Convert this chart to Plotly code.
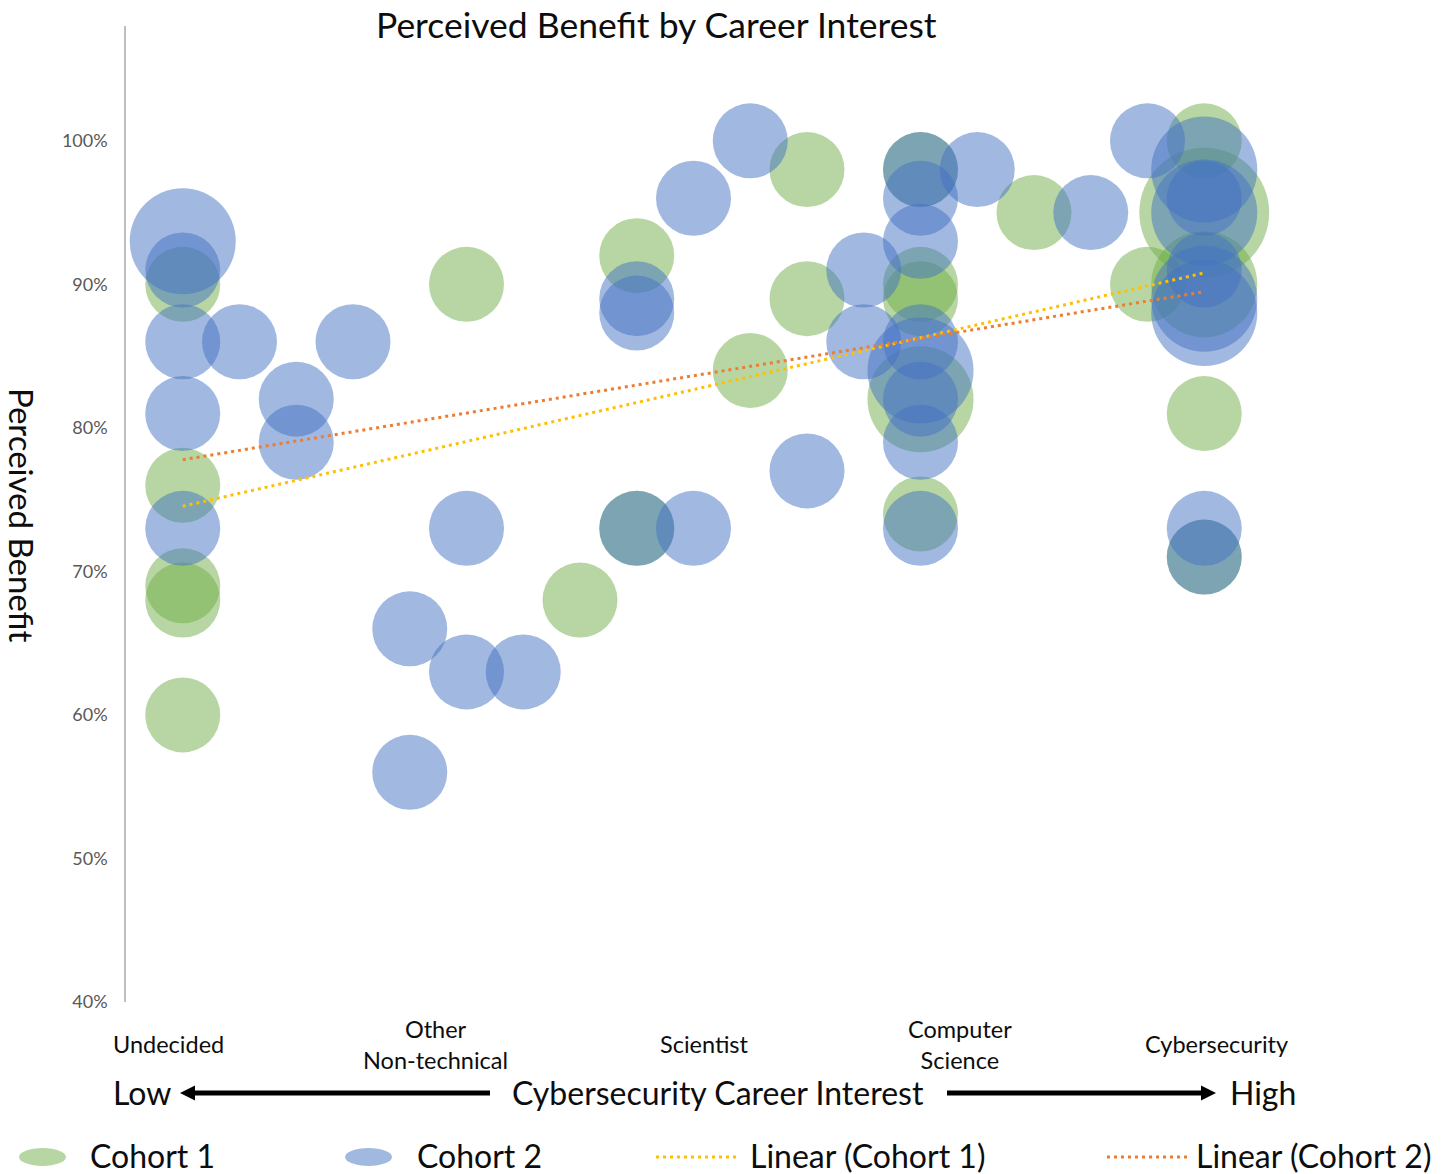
import numpy as np
import plotly.graph_objects as go

# ---- data ---------------------------------------------------------------
# x: position on the career-interest scale (1 = Undecided ... 19 = Cybersecurity)
# y: perceived benefit, n: number of students at that point (bubble size)
c1_x = [1, 1, 1, 1, 1, 6, 8, 9, 9, 11, 12, 12, 14, 14, 14, 14, 14, 16, 18, 19, 19, 19, 19, 19]
c1_y = [0.90, 0.76, 0.69, 0.68, 0.60, 0.90, 0.68, 0.92, 0.73, 0.84, 0.98, 0.89,
        0.98, 0.90, 0.89, 0.82, 0.74, 0.95, 0.90, 1.00, 0.95, 0.90, 0.81, 0.71]
c1_n = [1, 1, 1, 1, 1, 1, 1, 1, 1, 1, 1, 1, 1, 1, 1, 2, 1, 1, 1, 1, 3, 2, 1, 1]

c2_x = [1, 1, 1, 1, 1, 2, 3, 3, 4, 5, 5, 6, 6, 7, 9, 9, 9, 10, 10, 11, 12, 13, 13,
        14, 14, 14, 14, 14, 14, 14, 14, 15, 17, 18,
        19, 19, 19, 19, 19, 19, 19, 19]
c2_y = [0.93, 0.91, 0.86, 0.81, 0.73, 0.86, 0.82, 0.79, 0.86, 0.66, 0.56, 0.73, 0.63,
        0.63, 0.89, 0.88, 0.73, 0.96, 0.73, 1.00, 0.77, 0.91, 0.86,
        0.98, 0.96, 0.93, 0.86, 0.84, 0.82, 0.79, 0.73, 0.98, 0.95, 1.00,
        0.98, 0.96, 0.95, 0.91, 0.89, 0.88, 0.73, 0.71]
c2_n = [2, 1, 1, 1, 1, 1, 1, 1, 1, 1, 1, 1, 1, 1, 1, 1, 1, 1, 1, 1, 1, 1, 1,
        1, 1, 1, 1, 2, 1, 1, 1, 1, 1, 1,
        2, 1, 2, 1, 2, 2, 1, 1]

categories = ["Undecided", "Other<br>Non-technical", "Scientist",
              "Computer<br>Science", "Cybersecurity"]
category_pos = [0.74, 5.46, 10.19, 14.70, 19.22]
y_ticks = [0.4, 0.5, 0.6, 0.7, 0.8, 0.9, 1.0]

# ---- styling --------------------------------------------------------------
W, H = 1444, 1174
L, R, T, B = 126, 1261, 26, 1002          # plot area in pixels
FONT = "Lato"
INK = "#0D0D0D"
GREEN = "rgba(112,173,71,0.5)"
BLUE = "rgba(68,114,196,0.5)"
YELLOW = "#FFC000"
ORANGE = "#ED7D31"


def px_x(px):
    return (px - L) / (R - L)


def px_y(py):
    return (B - py) / (B - T)


def trend(xs, ys):
    k, b = np.polyfit(xs, ys, 1)
    xr = np.array([min(xs), max(xs)])
    return xr, k * xr + b


fig = go.Figure()

bubble_ref = 1 / (2 * 37.5 ** 2)   # n = 1 -> radius 37.5 px
for xs, ys, ns, col, name in [(c1_x, c1_y, c1_n, GREEN, "Cohort 1"),
                              (c2_x, c2_y, c2_n, BLUE, "Cohort 2")]:
    fig.add_trace(go.Scatter(
        x=xs, y=ys, mode="markers", name=name, showlegend=False,
        cliponaxis=False,
        marker=dict(size=ns, sizemode="area", sizeref=bubble_ref, sizemin=0,
                    opacity=1, color=col, line=dict(width=0)),
    ))

for xs, ys, col, name in [(c1_x, c1_y, YELLOW, "Linear (Cohort 1)"),
                          (c2_x, c2_y, ORANGE, "Linear (Cohort 2)")]:
    tx, ty = trend(xs, ys)
    fig.add_trace(go.Scatter(
        x=tx, y=ty, mode="lines", name=name, showlegend=False,
        line=dict(color=col, width=3, dash="3px,4px"),
    ))

annotations = []
shapes = []

# title and rotated y-axis title
annotations.append(dict(text="Perceived Benefit by Career Interest", xref="paper", yref="paper",
                        x=px_x(656), y=px_y(24), xanchor="center", yanchor="middle",
                        showarrow=False, font=dict(family=FONT, size=35.5, color=INK)))
annotations.append(dict(text="Perceived Benefit", xref="paper", yref="paper",
                        x=px_x(22), y=px_y(515), xanchor="center", yanchor="middle",
                        textangle=90, showarrow=False,
                        font=dict(family=FONT, size=33, color=INK)))

# category labels under the plot
for lab, pos in zip(categories, category_pos):
    annotations.append(dict(text=lab, xref="x", yref="paper", x=pos, y=px_y(1044),
                            xanchor="center", yanchor="middle", showarrow=False,
                            font=dict(family=FONT, size=23.5, color=INK)))

# Low <-- Cybersecurity Career Interest --> High
row_y = 1092
for txt, cx in [("Low", 142), ("Cybersecurity Career Interest", 718), ("High", 1263)]:
    annotations.append(dict(text=txt, xref="paper", yref="paper", x=px_x(cx), y=px_y(row_y),
                            xanchor="center", yanchor="middle", showarrow=False,
                            font=dict(family=FONT, size=32, color=INK)))


def arrow(tail, tip):
    d = 1 if tip > tail else -1
    base = tip - d * 15
    shapes.append(dict(type="line", xref="paper", yref="paper",
                       x0=px_x(tail), x1=px_x(base), y0=px_y(row_y + 1), y1=px_y(row_y + 1),
                       line=dict(color="black", width=5)))
    path = (f"M {px_x(tip)} {px_y(row_y + 1)} L {px_x(base)} {px_y(row_y + 1 - 7.5)} "
            f"L {px_x(base)} {px_y(row_y + 1 + 7.5)} Z")
    shapes.append(dict(type="path", xref="paper", yref="paper", path=path,
                       fillcolor="black", line=dict(width=0)))


arrow(490, 180)
arrow(947, 1216)

# legend row
leg_y = 1157
shapes.append(dict(type="circle", xref="paper", yref="paper",
                   x0=px_x(19), x1=px_x(66), y0=px_y(leg_y + 9), y1=px_y(leg_y - 9),
                   fillcolor=GREEN, line=dict(width=0)))
shapes.append(dict(type="circle", xref="paper", yref="paper",
                   x0=px_x(345), x1=px_x(392), y0=px_y(leg_y + 9), y1=px_y(leg_y - 9),
                   fillcolor=BLUE, line=dict(width=0)))
shapes.append(dict(type="line", xref="paper", yref="paper",
                   x0=px_x(656), x1=px_x(738), y0=px_y(leg_y), y1=px_y(leg_y),
                   line=dict(color=YELLOW, width=3, dash="3px,4px")))
shapes.append(dict(type="line", xref="paper", yref="paper",
                   x0=px_x(1107), x1=px_x(1188), y0=px_y(leg_y), y1=px_y(leg_y),
                   line=dict(color=ORANGE, width=3, dash="3px,4px")))
for txt, lx in [("Cohort 1", 88), ("Cohort 2", 415), ("Linear (Cohort 1)", 748),
                ("Linear (Cohort 2)", 1194)]:
    annotations.append(dict(text=txt, xref="paper", yref="paper", x=px_x(lx), y=px_y(leg_y - 2),
                            xanchor="left", yanchor="middle", showarrow=False,
                            font=dict(family=FONT, size=32, color=INK)))

fig.update_layout(
    width=W, height=H,
    margin=dict(l=L, r=W - R, t=T, b=H - B, autoexpand=False),
    paper_bgcolor="white", plot_bgcolor="white",
    showlegend=False,
    font=dict(family=FONT),
    xaxis=dict(range=[0, 20], visible=False, showgrid=False, zeroline=False),
    yaxis=dict(range=[0.4, 1.08], tickvals=y_ticks, tickformat=".0%",
               showgrid=False, zeroline=False, showline=True, linecolor="#BFBFBF",
               linewidth=1.5, ticks="", ticklabelstandoff=13,
               tickfont=dict(family=FONT, size=18, color="#595959")),
    annotations=annotations,
    shapes=shapes,
)

fig.write_html("out.html")
